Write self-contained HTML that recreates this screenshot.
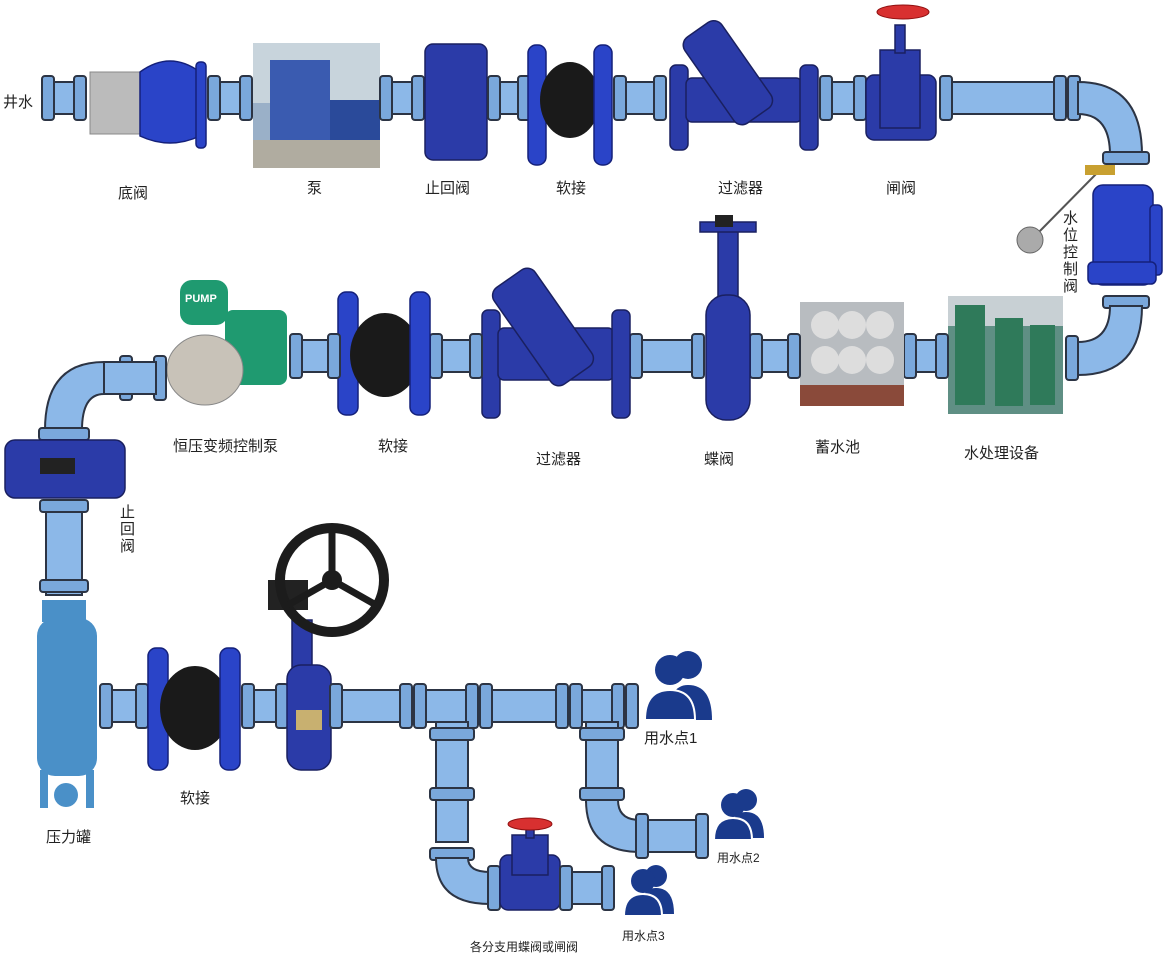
<!DOCTYPE html>
<html><head><meta charset="utf-8"><style>
html,body{margin:0;padding:0;background:#fff;width:1170px;height:956px;overflow:hidden}
svg{display:block}
text{font-family:"Liberation Sans","Noto Sans CJK SC",sans-serif;fill:#222}
.p{fill:#8cb8e8;stroke:#2c3444;stroke-width:2}
.f{fill:#7aa8dc;stroke:#2c3444;stroke-width:2}
.v{fill:#2b3ba8;stroke:#1a2060;stroke-width:1.5}
.b{fill:#2a44c8;stroke:#14207a;stroke-width:1.5}
</style></head><body>
<svg width="1170" height="956" viewBox="0 0 1170 956">
<!-- ROW 1 -->
<rect class="p" x="52" y="82" width="30" height="32"/>
<rect class="f" x="42" y="76" width="12" height="44" rx="3"/><rect class="f" x="74" y="76" width="12" height="44" rx="3"/>
<rect x="90" y="72" width="52" height="62" fill="#bbb" stroke="#888"/>
<path d="M140 72 Q170 50 200 72 L200 136 Q170 150 140 136Z" class="b"/>
<rect class="b" x="196" y="62" width="10" height="86" rx="4"/>
<rect class="p" x="214" y="82" width="30" height="32"/>
<rect class="f" x="208" y="76" width="12" height="44" rx="3"/><rect class="f" x="240" y="76" width="12" height="44" rx="3"/>
<rect x="253" y="43" width="127" height="125" fill="#9ab0c8"/>
<rect x="253" y="43" width="127" height="60" fill="#c8d4dc"/>
<rect x="270" y="60" width="60" height="90" fill="#3a5bb0"/>
<rect x="330" y="100" width="50" height="55" fill="#2a4a9a"/>
<rect x="253" y="140" width="127" height="28" fill="#b0aca0"/>
<rect class="p" x="386" y="82" width="34" height="32"/>
<rect class="f" x="380" y="76" width="12" height="44" rx="3"/><rect class="f" x="412" y="76" width="12" height="44" rx="3"/>
<rect class="v" x="425" y="44" width="62" height="116" rx="8"/>
<rect class="p" x="494" y="82" width="30" height="32"/>
<rect class="f" x="488" y="76" width="12" height="44" rx="3"/><rect class="f" x="518" y="76" width="12" height="44" rx="3"/>
<rect class="b" x="528" y="45" width="18" height="120" rx="8"/>
<ellipse cx="570" cy="100" rx="30" ry="38" fill="#1a1a1a"/>
<rect class="b" x="594" y="45" width="18" height="120" rx="8"/>
<rect class="p" x="620" y="82" width="40" height="32"/>
<rect class="f" x="614" y="76" width="12" height="44" rx="3"/><rect class="f" x="654" y="76" width="12" height="44" rx="3"/>
<rect class="v" x="670" y="65" width="18" height="85" rx="6"/>
<rect class="v" x="686" y="78" width="116" height="44" rx="6"/>
<rect class="v" x="705" y="20" width="45" height="105" rx="10" transform="rotate(-35 728 72)"/>
<rect class="v" x="800" y="65" width="18" height="85" rx="6"/>
<rect class="p" x="826" y="82" width="34" height="32"/>
<rect class="f" x="820" y="76" width="12" height="44" rx="3"/><rect class="f" x="854" y="76" width="12" height="44" rx="3"/>
<rect class="v" x="866" y="75" width="70" height="65" rx="8"/>
<rect class="v" x="880" y="50" width="40" height="78"/>
<rect class="v" x="895" y="25" width="10" height="28"/>
<ellipse cx="903" cy="12" rx="26" ry="7" fill="#d83030" stroke="#901010"/>
<rect class="p" x="946" y="82" width="116" height="32"/>
<rect class="f" x="940" y="76" width="12" height="44" rx="3"/><rect class="f" x="1054" y="76" width="12" height="44" rx="3"/><rect class="f" x="1068" y="76" width="12" height="44" rx="3"/>
<path class="p" d="M1078 82 Q1142 82 1142 155 L1110 155 Q1110 114 1078 114Z"/>
<rect class="f" x="1103" y="152" width="46" height="12" rx="3"/>
<line x1="1035" y1="236" x2="1100" y2="170" stroke="#555" stroke-width="2"/>
<rect x="1085" y="165" width="30" height="10" fill="#c8a030"/>
<circle cx="1030" cy="240" r="13" fill="#aaa" stroke="#666"/>
<rect class="b" x="1093" y="185" width="60" height="100" rx="10"/>
<rect class="b" x="1150" y="205" width="12" height="70" rx="4"/>
<rect class="b" x="1088" y="262" width="68" height="22" rx="5"/>
<rect class="f" x="1103" y="296" width="46" height="12" rx="3"/>
<path class="p" d="M1110 306 L1142 306 Q1142 375 1078 375 L1078 342 Q1110 342 1110 306Z"/>
<rect class="f" x="1066" y="336" width="12" height="44" rx="3"/>
<!-- ROW 2 -->
<rect x="948" y="296" width="115" height="118" fill="#5f8f84"/>
<rect x="948" y="296" width="115" height="30" fill="#c8d0d4"/>
<rect x="955" y="305" width="30" height="100" fill="#2f7a5a"/><rect x="995" y="318" width="28" height="88" fill="#2f7a5a"/><rect x="1030" y="325" width="25" height="80" fill="#2f7a5a"/>
<rect class="p" x="912" y="340" width="30" height="32"/>
<rect class="f" x="904" y="334" width="12" height="44" rx="3"/><rect class="f" x="936" y="334" width="12" height="44" rx="3"/>
<rect x="800" y="302" width="104" height="104" fill="#b8bcc0"/>
<circle cx="825" cy="325" r="14" fill="#ddd"/><circle cx="852" cy="325" r="14" fill="#ddd"/><circle cx="880" cy="325" r="14" fill="#ddd"/>
<circle cx="825" cy="360" r="14" fill="#ddd"/><circle cx="852" cy="360" r="14" fill="#ddd"/><circle cx="880" cy="360" r="14" fill="#ddd"/>
<rect x="800" y="385" width="104" height="21" fill="#8a4a3a"/>
<rect class="p" x="756" y="340" width="38" height="32"/>
<rect class="f" x="750" y="334" width="12" height="44" rx="3"/><rect class="f" x="788" y="334" width="12" height="44" rx="3"/>
<rect class="v" x="718" y="225" width="20" height="80"/>
<rect class="v" x="700" y="222" width="56" height="10"/>
<rect x="715" y="215" width="18" height="12" fill="#222"/>
<rect class="v" x="706" y="295" width="44" height="125" rx="20"/>
<rect class="p" x="636" y="340" width="64" height="32"/>
<rect class="f" x="630" y="334" width="12" height="44" rx="3"/><rect class="f" x="692" y="334" width="12" height="44" rx="3"/>
<rect class="v" x="482" y="310" width="18" height="108" rx="6"/>
<rect class="v" x="498" y="328" width="116" height="52" rx="6"/>
<rect class="v" x="518" y="268" width="50" height="118" rx="10" transform="rotate(-35 543 327)"/>
<rect class="v" x="612" y="310" width="18" height="108" rx="6"/>
<rect class="p" x="436" y="340" width="40" height="32"/>
<rect class="f" x="430" y="334" width="12" height="44" rx="3"/><rect class="f" x="470" y="334" width="12" height="44" rx="3"/>
<rect class="b" x="338" y="292" width="20" height="123" rx="8"/>
<ellipse cx="385" cy="355" rx="35" ry="42" fill="#1a1a1a"/>
<rect class="b" x="410" y="292" width="20" height="123" rx="8"/>
<rect class="p" x="296" y="340" width="36" height="32"/>
<rect class="f" x="290" y="334" width="12" height="44" rx="3"/><rect class="f" x="328" y="334" width="12" height="44" rx="3"/>
<rect x="225" y="310" width="62" height="75" rx="8" fill="#1f9a70"/>
<rect x="180" y="280" width="48" height="45" rx="12" fill="#1f9a70"/>
<ellipse cx="205" cy="370" rx="38" ry="35" fill="#c8c2b8" stroke="#888"/>
<text x="185" y="302" font-size="11" style="fill:#fff" font-weight="bold">PUMP</text>
<rect class="f" x="154" y="356" width="12" height="44" rx="3"/><rect class="f" x="120" y="356" width="12" height="44" rx="3"/>
<rect class="p" x="104" y="362" width="52" height="32"/>
<path class="p" d="M104 362 Q45 362 45 430 L82 430 Q82 394 104 394Z"/>
<rect class="f" x="39" y="428" width="50" height="12" rx="3"/>
<rect class="v" x="5" y="440" width="120" height="58" rx="10"/>
<rect x="40" y="458" width="35" height="16" fill="#222"/>
<!-- vertical -->
<rect class="p" x="46" y="505" width="36" height="90"/>
<rect class="f" x="40" y="500" width="48" height="12" rx="3"/><rect class="f" x="40" y="580" width="48" height="12" rx="3"/>
<rect x="42" y="600" width="44" height="22" fill="#4a90c8"/>
<rect x="37" y="618" width="60" height="158" rx="18" fill="#4a90c8"/>
<rect x="40" y="770" width="8" height="38" fill="#4a90c8"/><rect x="86" y="770" width="8" height="38" fill="#4a90c8"/>
<circle cx="66" cy="795" r="12" fill="#4a90c8"/>
<!-- ROW 3 -->
<rect class="p" x="106" y="690" width="36" height="32"/>
<rect class="f" x="100" y="684" width="12" height="44" rx="3"/><rect class="f" x="136" y="684" width="12" height="44" rx="3"/>
<rect class="b" x="148" y="648" width="20" height="122" rx="8"/>
<ellipse cx="195" cy="708" rx="35" ry="42" fill="#1a1a1a"/>
<rect class="b" x="220" y="648" width="20" height="122" rx="8"/>
<rect class="p" x="248" y="690" width="34" height="32"/>
<rect class="f" x="242" y="684" width="12" height="44" rx="3"/><rect class="f" x="276" y="684" width="12" height="44" rx="3"/>
<rect class="v" x="292" y="620" width="20" height="60"/>
<rect class="v" x="287" y="665" width="44" height="105" rx="14"/>
<rect x="296" y="710" width="26" height="20" fill="#c8b070"/>
<rect x="268" y="580" width="40" height="30" fill="#222"/>
<circle cx="332" cy="580" r="52" fill="none" stroke="#1c1c1c" stroke-width="10"/>
<circle cx="332" cy="580" r="10" fill="#1c1c1c"/>
<line x1="332" y1="580" x2="332" y2="530" stroke="#1c1c1c" stroke-width="7"/>
<line x1="332" y1="580" x2="288" y2="605" stroke="#1c1c1c" stroke-width="7"/>
<line x1="332" y1="580" x2="376" y2="605" stroke="#1c1c1c" stroke-width="7"/>
<rect class="p" x="336" y="690" width="300" height="32"/>
<rect class="f" x="330" y="684" width="12" height="44" rx="3"/>
<rect class="f" x="400" y="684" width="12" height="44" rx="3"/><rect class="f" x="414" y="684" width="12" height="44" rx="3"/>
<rect class="f" x="466" y="684" width="12" height="44" rx="3"/><rect class="f" x="480" y="684" width="12" height="44" rx="3"/>
<rect class="f" x="556" y="684" width="12" height="44" rx="3"/><rect class="f" x="570" y="684" width="12" height="44" rx="3"/>
<rect class="f" x="612" y="684" width="12" height="44" rx="3"/><rect class="f" x="626" y="684" width="12" height="44" rx="3"/>
<!-- branch 1 -->
<rect class="p" x="436" y="722" width="32" height="120"/>
<rect class="f" x="430" y="728" width="44" height="12" rx="3"/><rect class="f" x="430" y="788" width="44" height="12" rx="3"/><rect class="f" x="430" y="848" width="44" height="12" rx="3"/>
<path class="p" d="M436 858 L468 858 Q468 872 490 872 L490 904 Q436 904 436 858Z"/>
<rect class="f" x="488" y="866" width="12" height="44" rx="3"/>
<rect class="v" x="500" y="855" width="60" height="55" rx="8"/>
<rect class="v" x="512" y="835" width="36" height="40"/>
<rect class="v" x="526" y="826" width="8" height="12"/>
<ellipse cx="530" cy="824" rx="22" ry="6" fill="#d83030" stroke="#901010"/>
<rect class="p" x="566" y="872" width="40" height="32"/>
<rect class="f" x="560" y="866" width="12" height="44" rx="3"/><rect class="f" x="602" y="866" width="12" height="44" rx="3"/>
<!-- branch 2 -->
<rect class="p" x="586" y="722" width="32" height="80"/>
<rect class="f" x="580" y="728" width="44" height="12" rx="3"/><rect class="f" x="580" y="788" width="44" height="12" rx="3"/>
<path class="p" d="M586 800 L618 800 Q618 820 640 820 L640 852 Q586 852 586 800Z"/>
<rect class="p" x="640" y="820" width="60" height="32"/>
<rect class="f" x="636" y="814" width="12" height="44" rx="3"/><rect class="f" x="696" y="814" width="12" height="44" rx="3"/>
<!-- user icons -->
<g fill="#1a3a8c">
<circle cx="688" cy="665" r="14"/><path d="M668 720 Q668 685 688 685 Q712 685 712 720Z"/>
<circle cx="670" cy="670" r="15"/><path d="M645 720 Q645 690 670 690 Q695 690 695 720Z" stroke="#fff" stroke-width="2"/>
<circle cx="746" cy="800" r="11"/><path d="M730 838 Q730 812 746 812 Q764 812 764 838Z"/>
<circle cx="733" cy="805" r="12"/><path d="M714 840 Q714 818 733 818 Q752 818 752 840Z" stroke="#fff" stroke-width="2"/>
<circle cx="656" cy="876" r="11"/><path d="M640 914 Q640 888 656 888 Q674 888 674 914Z"/>
<circle cx="643" cy="881" r="12"/><path d="M624 916 Q624 894 643 894 Q662 894 662 916Z" stroke="#fff" stroke-width="2"/>
</g>
<!-- labels -->
<g font-size="15">
<text x="3" y="107">井水</text>
<text x="118" y="198">底阀</text>
<text x="307" y="193">泵</text>
<text x="425" y="193">止回阀</text>
<text x="556" y="193">软接</text>
<text x="718" y="193">过滤器</text>
<text x="886" y="193">闸阀</text>
<text x="173" y="451">恒压变频控制泵</text>
<text x="378" y="451">软接</text>
<text x="536" y="464">过滤器</text>
<text x="704" y="464">蝶阀</text>
<text x="815" y="452">蓄水池</text>
<text x="964" y="458">水处理设备</text>
<text x="180" y="803">软接</text>
<text x="46" y="842">压力罐</text>
<text x="644" y="743">用水点1</text>
</g>
<g font-size="15"><text x="1063" y="223">水</text><text x="1063" y="240">位</text><text x="1063" y="257">控</text><text x="1063" y="274">制</text><text x="1063" y="291">阀</text></g>
<g font-size="15"><text x="120" y="517">止</text><text x="120" y="534">回</text><text x="120" y="551">阀</text></g>
<text x="717" y="862" font-size="12">用水点2</text>
<text x="622" y="940" font-size="12">用水点3</text>
<text x="470" y="951" font-size="12">各分支用蝶阀或闸阀</text>
</svg>
</body></html>
